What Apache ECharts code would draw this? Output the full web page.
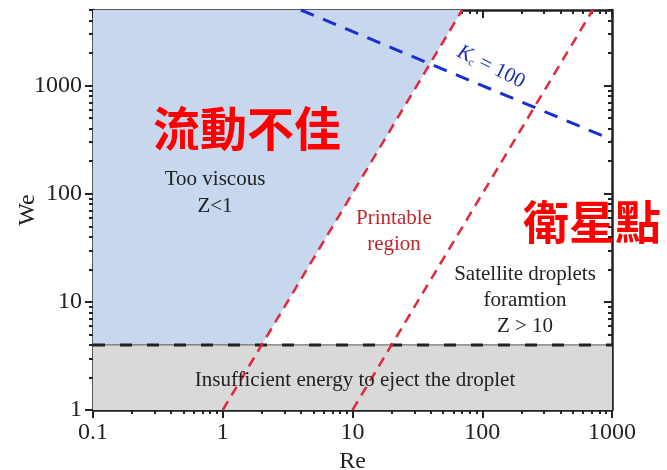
<!DOCTYPE html>
<html>
<head>
<meta charset="utf-8">
<script src="https://cdn.jsdelivr.net/npm/echarts@6/dist/echarts.min.js"></script>
<style>
  html, body { margin: 0; padding: 0; background: #fff; }
  #chart { width: 667px; height: 470px; }
</style>
</head>
<body>
<div id="chart"></div>
<script>
// axis ranges and ticks
const reRange = [0.1, 1000]
const weRange = [1, 5000]
const reTicks = [0.1, 1, 10, 100, 1000]
const weTicks = [1, 10, 100, 1000]

// region boundaries (Re, We)
const tooViscousEdge = [[0.1, 4], [2, 4], [70, 5000]]
const energyLimit = [[0.1, 4], [1000, 4]]
const zOneLine = [[1, 1], [70, 5000]]
const zTenLine = [[10, 1], [710, 5000]]
const kcLine = [[4, 5000], [1000, 316]]

// minor ticks 2..9 inside each decade
const minorTicks = (lo, hi) => {
  const out = []
  for (let d = lo; d < hi; d *= 10) {
    for (let m = 2; m <= 9; m++) {
      const v = +(d * m).toPrecision(3)
      if (v <= hi) out.push(v)
    }
  }
  return out
}
const reMinor = minorTicks(0.1, 1000)
const weMinor = minorTicks(1, 5000)

const serif = "'Liberation Serif', 'Times New Roman', serif"
const cjk = "'Noto Sans CJK TC', 'Noto Sans CJK SC', sans-serif"
const frame = { show: true, onZero: false, lineStyle: { color: '#222', width: 2.5 } }

const makeAxis = (range, pos, major, minor, inside, withLabel, extra) => Object.assign({
  type: 'log',
  logBase: 10,
  min: range[0],
  max: range[1],
  position: pos,
  axisLine: minor ? { show: false, onZero: false } : frame,
  axisTick: {
    show: true,
    inside: inside,
    length: minor ? 4 : 8,
    customValues: minor ? minor : major,
    lineStyle: { color: '#222', width: 2 }
  },
  axisLabel: withLabel ? {
    show: true,
    customValues: major,
    formatter: v => String(v),
    fontFamily: serif,
    fontSize: 24,
    color: '#222',
    margin: 11
  } : { show: false },
  splitLine: { show: false }
}, extra || {})

const chart = echarts.init(document.getElementById('chart'))

chart.setOption({
  backgroundColor: '#fff',
  animation: false,
  grid: { left: 93, right: 55, top: 10, bottom: 60, outerBoundsMode: 'none' },
  xAxis: [
    makeAxis(reRange, 'bottom', reTicks, null, false, true, {
      name: 'Re', nameLocation: 'middle', nameGap: 40, nameMoveOverlap: false,
      nameTextStyle: { fontFamily: serif, fontSize: 24, color: '#222' }
    }),
    makeAxis(reRange, 'bottom', reTicks, reMinor, false, false),
    makeAxis(reRange, 'top', reTicks, null, true, false),
    makeAxis(reRange, 'top', reTicks, reMinor, true, false)
  ],
  yAxis: [
    makeAxis(weRange, 'left', weTicks, null, false, true, {
      name: 'We', nameLocation: 'middle', nameGap: 53, nameMoveOverlap: false,
      nameTextStyle: { fontFamily: serif, fontSize: 24, color: '#222' }
    }),
    makeAxis(weRange, 'left', weTicks, weMinor, false, false),
    makeAxis(weRange, 'right', weTicks, null, true, false),
    makeAxis(weRange, 'right', weTicks, weMinor, true, false)
  ],
  series: [
    {
      // too viscous region
      type: 'line',
      data: tooViscousEdge,
      showSymbol: false,
      silent: true,
      lineStyle: { width: 0 },
      areaStyle: { origin: 'end', color: '#c6d7ee', opacity: 1 },
      z: 1
    },
    {
      // insufficient energy band, thin edge
      type: 'line',
      data: energyLimit,
      showSymbol: false,
      silent: true,
      lineStyle: { color: '#555', width: 1 },
      areaStyle: { origin: 'start', color: '#d9d9d9', opacity: 1 },
      z: 2
    },
    {
      type: 'line',
      data: energyLimit,
      showSymbol: false,
      silent: true,
      lineStyle: { color: '#222', width: 3, type: [12, 15] },
      z: 2
    },
    {
      type: 'line',
      data: zOneLine,
      showSymbol: false,
      silent: true,
      lineStyle: { color: '#e0283a', width: 2.5, type: [10, 7] },
      z: 3
    },
    {
      type: 'line',
      data: zTenLine,
      showSymbol: false,
      silent: true,
      lineStyle: { color: '#e0283a', width: 2.5, type: [10, 7] },
      z: 3
    },
    {
      type: 'line',
      data: kcLine,
      showSymbol: false,
      silent: true,
      lineStyle: { color: '#1a2fd0', width: 3, type: [14, 10] },
      z: 3
    }
  ],
  graphic: [
    { type: 'text', x: 247, y: 128, z: 10, style: { text: '流動不佳', font: `bold 47px ${cjk}`, fill: '#ff0000', align: 'center', verticalAlign: 'middle' } },
    { type: 'text', x: 592, y: 222, z: 10, style: { text: '衛星點', font: `bold 46px ${cjk}`, fill: '#ff0000', align: 'center', verticalAlign: 'middle' } },
    { type: 'text', x: 215, y: 179, z: 10, style: { text: 'Too viscous', font: `21px ${serif}`, fill: '#222', align: 'center', verticalAlign: 'middle' } },
    { type: 'text', x: 215, y: 206, z: 10, style: { text: 'Z<1', font: `21px ${serif}`, fill: '#222', align: 'center', verticalAlign: 'middle' } },
    { type: 'text', x: 394, y: 218, z: 10, style: { text: 'Printable', font: `21px ${serif}`, fill: '#c0282d', align: 'center', verticalAlign: 'middle' } },
    { type: 'text', x: 394, y: 244, z: 10, style: { text: 'region', font: `21px ${serif}`, fill: '#c0282d', align: 'center', verticalAlign: 'middle' } },
    { type: 'text', x: 525, y: 274, z: 10, style: { text: 'Satellite droplets', font: `21px ${serif}`, fill: '#222', align: 'center', verticalAlign: 'middle' } },
    { type: 'text', x: 525, y: 300, z: 10, style: { text: 'foramtion', font: `21px ${serif}`, fill: '#222', align: 'center', verticalAlign: 'middle' } },
    { type: 'text', x: 525, y: 326, z: 10, style: { text: 'Z > 10', font: `21px ${serif}`, fill: '#222', align: 'center', verticalAlign: 'middle' } },
    { type: 'text', x: 355, y: 380, z: 10, style: { text: 'Insufficient energy to eject the droplet', font: `21px ${serif}`, fill: '#222', align: 'center', verticalAlign: 'middle' } },
    {
      type: 'text', x: 491, y: 67, rotation: -0.46, z: 10,
      style: {
        text: '{k|K}{s|c}{n| = 100}',
        align: 'center', verticalAlign: 'middle',
        rich: {
          k: { fontFamily: serif, fontSize: 21, fontStyle: 'italic', fill: '#1a2fb0' },
          s: { fontFamily: serif, fontSize: 11, fill: '#1a2fb0', padding: [10, 0, 0, 0] },
          n: { fontFamily: serif, fontSize: 21, fill: '#1a2fb0' }
        }
      }
    }
  ]
})
</script>
</body>
</html>
